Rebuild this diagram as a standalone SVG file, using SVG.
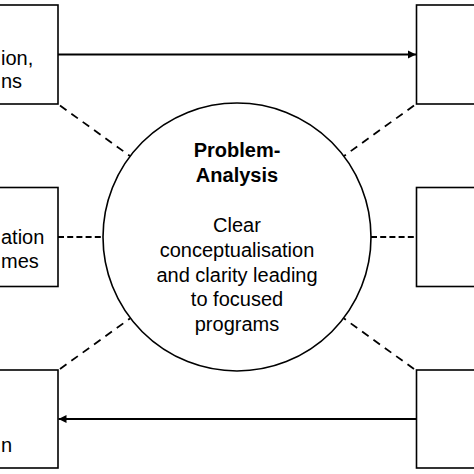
<svg xmlns="http://www.w3.org/2000/svg" width="474" height="474" viewBox="0 0 474 474">
<style>
.box{fill:#fff;stroke:#000;stroke-width:1.6}
.circ{fill:#fff;stroke:#000;stroke-width:1.6}
.t{font-family:"Liberation Sans",Arial,sans-serif;font-size:20px;fill:#000}
.b{font-weight:bold}
.c{text-anchor:middle}
.s{text-anchor:start}
.arrow{stroke:#000;stroke-width:1.8;fill:none}
.dd{stroke:#000;stroke-width:1.8;fill:none;stroke-dasharray:8 6}
.dh{stroke:#000;stroke-width:1.8;fill:none;stroke-dasharray:6 3.2}
</style>
<defs>
<marker id="ah" viewBox="0 0 10 10" refX="10" refY="5" markerWidth="8" markerHeight="11" markerUnits="userSpaceOnUse" orient="auto">
<path d="M0,0 L10,5 L0,10 Z" fill="#000"/>
</marker>
</defs>
<rect width="474" height="474" fill="#fff"/>
<g id="connectors">
<line class="arrow" x1="58" y1="54.5" x2="416" y2="54.5" marker-end="url(#ah)"/>
<line class="arrow" x1="416.5" y1="419" x2="58.5" y2="419" marker-end="url(#ah)"/>
<line class="dd" x1="60" y1="105.5" x2="130" y2="156"/>
<line class="dd" x1="414" y1="105.5" x2="344" y2="156"/>
<line class="dd" x1="60" y1="369" x2="130" y2="318.5"/>
<line class="dd" x1="414" y1="369" x2="344" y2="318.5"/>
<line class="dh" x1="58" y1="237" x2="103" y2="237"/>
<line class="dh" x1="371" y1="237" x2="416.5" y2="237"/>
</g>
<g id="node-top-left">
<rect class="box" x="-40" y="5" width="98" height="99"/>
<text class="t s" x="1" y="64.5">ion,</text>
<text class="t s" x="1" y="88">ns</text>
</g>
<g id="node-mid-left">
<rect class="box" x="-40" y="187.5" width="98" height="99"/>
<text class="t s" x="1" y="244">ation</text>
<text class="t s" x="1" y="267.5">mes</text>
</g>
<g id="node-bottom-left">
<rect class="box" x="-40" y="370" width="98" height="98"/>
<text class="t s" x="1" y="452">n</text>
</g>
<g id="node-top-right">
<rect class="box" x="416.5" y="5" width="98" height="99"/>
</g>
<g id="node-mid-right">
<rect class="box" x="416.5" y="187.5" width="98" height="99"/>
</g>
<g id="node-bottom-right">
<rect class="box" x="416.5" y="370" width="98" height="98"/>
</g>
<g id="node-center">
<circle class="circ" cx="237" cy="237" r="134"/>
<text class="t b c" x="237" y="157">Problem-</text>
<text class="t b c" x="237" y="182">Analysis</text>
<text class="t c" x="237" y="232">Clear</text>
<text class="t c" x="237" y="257">conceptualisation</text>
<text class="t c" x="237" y="281.5">and clarity leading</text>
<text class="t c" x="237" y="306">to focused</text>
<text class="t c" x="237" y="330.5">programs</text>
</g>
</svg>
